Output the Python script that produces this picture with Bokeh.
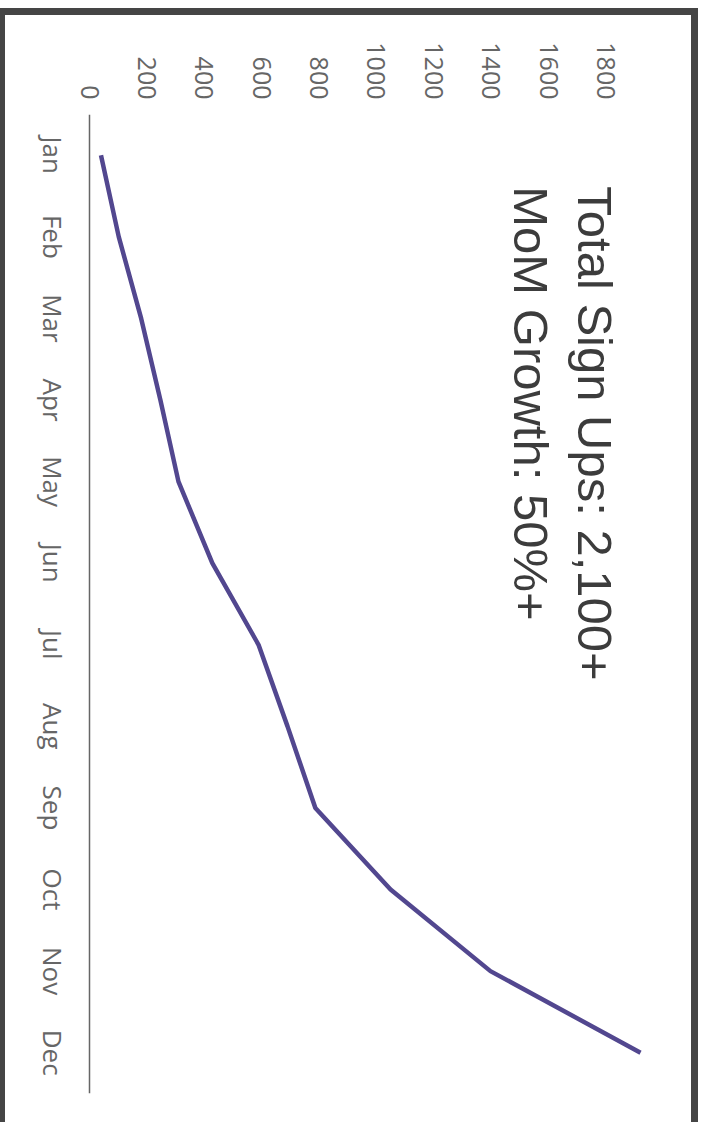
import math
from bokeh.plotting import figure
from bokeh.layouts import column, row
from bokeh.core.properties import value
from bokeh.models import (ColumnDataSource, FactorRange, Range1d, FixedTicker,
                          Label, LabelSet, Span, Div)
from bokeh.embed import file_html
from bokeh.resources import INLINE

months = ["Jan", "Feb", "Mar", "Apr", "May", "Jun",
          "Jul", "Aug", "Sep", "Oct", "Nov", "Dec"]
signups = [40, 102, 180, 247, 310, 428, 589, 690, 787, 1049, 1397, 1920]
value_ticks = [0, 200, 400, 600, 800, 1000, 1200, 1400, 1600, 1800]
title_lines = ["Total Sign Ups: 2,100+", "MoM Growth: 50%+"]

FRAME = "#454545"
GREY = "#666666"

src = ColumnDataSource(dict(month=months, value=signups,
                            zero=[0] * len(months)))

p = figure(width=686, height=1107, output_backend="svg", toolbar_location=None,
           x_range=Range1d(-292.7, 2097.6),
           y_range=FactorRange(factors=months[::-1], range_padding=0),
           x_axis_location="above", margin=0)
p.min_border_left = 0
p.min_border_right = 0
p.min_border_top = 99
p.min_border_bottom = 29
p.outline_line_color = None
p.grid.visible = False
p.background_fill_color = "white"
p.border_fill_color = "white"

p.line(x="value", y="month", source=src, line_color="#52478f", line_width=4.5)

# value axis (top)
xa = p.xaxis[0]
xa.ticker = FixedTicker(ticks=value_ticks)
xa.axis_line_color = None
xa.major_tick_line_color = None
xa.minor_tick_line_color = None
xa.major_label_orientation = -math.pi / 2
xa.major_label_standoff = 9
xa.major_label_text_font = "Open Sans"
xa.major_label_text_font_size = "25px"
xa.major_label_text_color = GREY

# month axis: line at 0 + centred, rotated labels
p.yaxis.visible = False
p.add_layout(Span(location=0, dimension="height", line_color=GREY,
                  line_width=1.5))
p.add_layout(LabelSet(x="zero", y="month", text="month", source=src,
                      x_offset=-37, angle=-math.pi / 2,
                      text_align="center", text_baseline="middle",
                      text_font=value("Open Sans"), text_font_size="26px",
                      text_color=GREY))

# title texts, rotated like the rest of the chart
for txt, xv in zip(title_lines, [1763, 1540]):
    p.add_layout(Label(x=xv, y=11.12, text=txt, angle=-math.pi / 2,
                       text_font="Liberation Sans", text_font_size="49px",
                       text_color="#3c3c3c", text_align="left",
                       text_baseline="alphabetic"))

# dark picture frame around the chart
top_gap = Div(width=701, height=8, margin=0)
top_bar = Div(width=698, height=7, margin=0,
              styles={"background-color": FRAME})
left_bar = Div(width=5, height=1107, margin=0,
               styles={"background-color": FRAME})
right_bar = Div(width=7, height=1107, margin=0,
                styles={"background-color": FRAME})

layout = column(top_gap, top_bar,
                row(left_bar, p, right_bar, margin=0, spacing=0),
                margin=0, spacing=0)

open("out.html", "w").write(file_html(layout, INLINE))
